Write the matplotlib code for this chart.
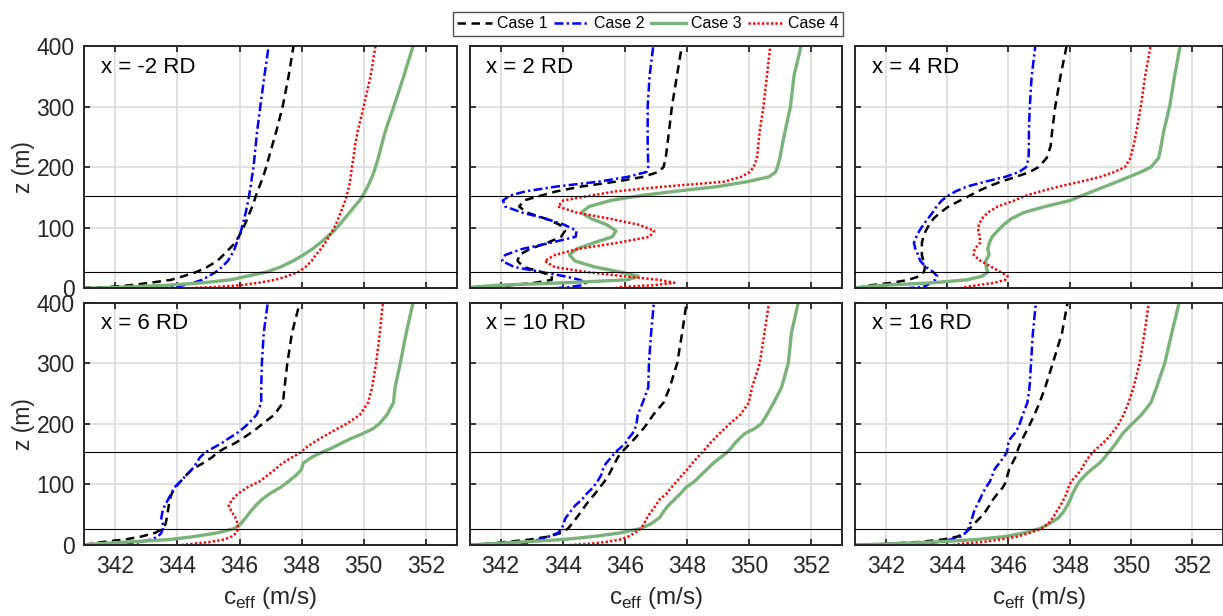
import matplotlib
matplotlib.use('Agg')
import matplotlib.pyplot as plt
from matplotlib.lines import Line2D

plt.rcParams['font.family'] = ['Liberation Sans', 'DejaVu Sans']
plt.rcParams['mathtext.fontset'] = 'custom'
plt.rcParams['mathtext.rm'] = 'Liberation Sans'

# heights (m)
z = [0, 2, 5, 9, 14, 20, 27, 35, 45, 55, 65, 75, 85, 95, 105, 115, 125, 135, 145, 153,
     160, 168, 176, 184, 192, 200, 215, 235, 260, 300, 350, 400]

panel_titles = ['x = -2 RD', 'x = 2 RD', 'x = 4 RD', 'x = 6 RD', 'x = 10 RD', 'x = 16 RD']
case_names = ['Case 1', 'Case 2', 'Case 3', 'Case 4']
rotor_bottom = 27
rotor_top = 153
xticks = [342, 344, 346, 348, 350, 352]
yticks = [0, 100, 200, 300, 400]

# x = -2 RD
c1_m2 = [340.5, 341.7, 342.47, 343.1, 343.8, 344.19, 344.62, 344.95, 345.28, 345.48,
         345.67, 345.86, 345.97, 346.08, 346.17, 346.25, 346.33, 346.41, 346.48, 346.53,
         346.58, 346.64, 346.7, 346.76, 346.81, 346.86, 346.94, 347.05, 347.19, 347.39,
         347.58, 347.74]
c2_m2 = [343.4, 343.8, 344.2, 344.5, 344.8, 345.0, 345.24, 345.43, 345.62, 345.74,
         345.84, 345.91, 345.98, 346.05, 346.1, 346.15, 346.2, 346.24, 346.28, 346.31,
         346.33, 346.36, 346.38, 346.4, 346.43, 346.45, 346.48, 346.52, 346.57, 346.67,
         346.8, 346.94]
c3_m2 = [341.0, 342.26, 343.66, 344.8, 345.7, 346.24, 346.88, 347.31, 347.72, 348.05,
         348.35, 348.6, 348.82, 349.05, 349.22, 349.38, 349.55, 349.7, 349.87, 349.97,
         350.05, 350.13, 350.2, 350.27, 350.33, 350.38, 350.47, 350.57, 350.7, 350.97,
         351.29, 351.59]
c4_m2 = [344.3, 345.16, 346.02, 346.6, 347.15, 347.53, 347.9, 348.12, 348.32, 348.46,
         348.62, 348.76, 348.88, 349.0, 349.1, 349.18, 349.26, 349.33, 349.41, 349.45,
         349.49, 349.53, 349.56, 349.58, 349.6, 349.62, 349.67, 349.72, 349.81, 350.0,
         350.22, 350.38]

# x = 2 RD
c1_p2 = [340.8, 341.2, 342.3, 343.1, 343.65, 343.65, 343.3, 342.75, 342.55, 342.6,
         342.95, 343.5, 343.95, 344.08, 343.9, 343.45, 342.85, 342.6, 342.75, 343.3,
         343.8, 344.6, 345.7, 346.6, 347.08, 347.25, 347.32, 347.37, 347.43, 347.52,
         347.68, 347.84]
c2_p2 = [343.75, 344.2, 344.6, 344.75, 344.55, 344.05, 343.3, 342.45, 342.05, 342.15,
         342.7, 343.6, 344.42, 344.45, 344.05, 343.45, 342.7, 342.15, 342.08, 342.3,
         342.8, 343.8, 345.15, 346.1, 346.7, 346.76, 346.75, 346.74, 346.74, 346.74,
         346.8, 346.92]
c3_p2 = [340.9, 341.1, 341.9, 344.0, 346.1, 346.43, 345.85, 345.05, 344.4, 344.22,
         344.45, 345.0, 345.6, 345.72, 345.42, 344.92, 344.6, 344.85, 345.55, 346.5,
         347.6, 349.0, 349.95, 350.65, 350.86, 350.92, 351.0, 351.07, 351.17, 351.34,
         351.45, 351.68]
c4_p2 = [345.7, 345.8, 346.9, 347.6, 347.1, 345.95, 344.75, 343.75, 343.42, 343.75,
         344.5, 345.75, 346.8, 346.95, 346.45, 345.5, 344.45, 343.85, 344.02, 344.9,
         345.7, 347.3, 349.2, 349.75, 350.03, 350.15, 350.26, 350.3, 350.35, 350.47,
         350.58, 350.69]

# x = 4 RD
c1_p4 = [341.0, 341.2, 341.5, 342.2, 342.75, 343.1, 343.25, 343.28, 343.23, 343.18,
         343.18, 343.18, 343.23, 343.31, 343.42, 343.56, 343.78, 344.05, 344.43, 344.74,
         345.0, 345.35, 345.75, 346.25, 346.7, 346.98, 347.25, 347.38, 347.43, 347.53,
         347.7, 347.9]
c2_p4 = [342.65, 343.2, 343.35, 343.45, 343.62, 343.68, 343.55, 343.32, 343.13, 343.06,
         342.97, 342.92, 343.0, 343.1, 343.23, 343.38, 343.53, 343.66, 343.83, 344.04,
         344.28, 344.65, 345.25, 345.9, 346.35, 346.58, 346.66, 346.67, 346.67, 346.7,
         346.76, 346.88]
c3_p4 = [341.0, 341.2, 341.9, 343.5, 344.65, 345.15, 345.33, 345.28, 345.26, 345.37,
         345.33, 345.38, 345.47, 345.65, 345.85, 346.1, 346.5, 347.2, 348.02, 348.4,
         348.75, 349.15, 349.55, 349.94, 350.32, 350.65, 350.9, 350.98, 351.07, 351.26,
         351.42, 351.6]
c4_p4 = [344.42, 344.6, 344.96, 345.55, 345.9, 345.98, 345.75, 345.46, 345.1, 344.87,
         344.9, 345.08, 345.07, 345.02, 345.04, 345.14, 345.33, 345.65, 346.2, 346.57,
         347.05, 347.65, 348.35, 349.0, 349.45, 349.8, 349.98, 350.08, 350.18, 350.32,
         350.46, 350.64]

# x = 6 RD
c1_p6 = [341.0, 341.2, 341.6, 342.3, 342.84, 343.28, 343.53, 343.62, 343.66, 343.69,
         343.72, 343.75, 343.82, 343.93, 344.1, 344.28, 344.47, 344.82, 345.12, 345.3,
         345.53, 345.85, 346.1, 346.33, 346.55, 346.74, 347.12, 347.4, 347.45, 347.54,
         347.69, 347.94]
c2_p6 = [342.3, 342.5, 342.8, 343.15, 343.38, 343.48, 343.53, 343.53, 343.48, 343.52,
         343.59, 343.7, 343.8, 343.9, 344.1, 344.28, 344.47, 344.61, 344.73, 344.9,
         345.14, 345.42, 345.65, 345.9, 346.1, 346.28, 346.55, 346.7, 346.7, 346.72,
         346.78, 346.91]
c3_p6 = [341.0, 341.4, 342.4, 343.75, 344.55, 345.28, 345.83, 346.04, 346.2, 346.35,
         346.52, 346.72, 346.98, 347.32, 347.58, 347.82, 348.0, 348.05, 348.33, 348.65,
         348.97, 349.28, 349.6, 349.98, 350.3, 350.5, 350.75, 350.96, 351.01, 351.18,
         351.37, 351.59]
c4_p6 = [344.13, 344.5, 345.05, 345.5, 345.75, 345.9, 345.95, 345.94, 345.87, 345.75,
         345.65, 345.76, 345.96, 346.25, 346.65, 346.9, 347.15, 347.38, 347.7, 347.98,
         348.12, 348.35, 348.6, 348.88, 349.15, 349.45, 349.88, 350.14, 350.27, 350.4,
         350.52, 350.62]

# x = 10 RD
c1_p10 = [341.0, 341.5, 342.15, 342.95, 343.55, 343.95, 344.17, 344.3, 344.45, 344.6,
          344.73, 344.88, 345.05, 345.2, 345.35, 345.48, 345.58, 345.68, 345.78, 345.9,
          346.03, 346.18, 346.33, 346.46, 346.6, 346.72, 346.92, 347.25, 347.45, 347.69,
          347.85, 347.99]
c2_p10 = [342.6, 342.75, 342.95, 343.25, 343.55, 343.85, 343.98, 344.02, 344.1, 344.25,
          344.4, 344.62, 344.78, 344.98, 345.12, 345.24, 345.3, 345.4, 345.57, 345.7,
          345.85, 346.02, 346.12, 346.25, 346.33, 346.38, 346.42, 346.58, 346.76, 346.78,
          346.85, 346.94]
c3_p10 = [341.0, 341.6, 342.7, 344.0, 345.0, 345.85, 346.5, 346.85, 347.12, 347.25,
          347.4, 347.6, 347.8, 347.97, 348.25, 348.45, 348.65, 348.85, 349.1, 349.3,
          349.43, 349.55, 349.7, 349.87, 350.18, 350.4, 350.58, 350.8, 351.05, 351.27,
          351.37, 351.59]
c4_p10 = [344.23, 344.85, 345.4, 345.85, 346.12, 346.33, 346.52, 346.62, 346.72, 346.85,
          347.0, 347.12, 347.35, 347.5, 347.68, 347.84, 348.02, 348.18, 348.35, 348.5,
          348.62, 348.75, 348.9, 349.05, 349.22, 349.38, 349.72, 350.0, 350.1, 350.35,
          350.5, 350.65]

# x = 16 RD
c1_p16 = [341.0, 342.0, 343.1, 343.85, 344.35, 344.6, 344.74, 344.88, 345.08, 345.25,
          345.38, 345.5, 345.65, 345.82, 345.93, 345.97, 346.03, 346.13, 346.23, 346.28,
          346.33, 346.4, 346.47, 346.55, 346.63, 346.71, 346.85, 347.02, 347.2, 347.45,
          347.75, 347.93]
c2_p16 = [342.86, 343.2, 343.7, 344.1, 344.45, 344.6, 344.7, 344.75, 344.82, 344.88,
          344.97, 345.07, 345.16, 345.27, 345.4, 345.48, 345.55, 345.7, 345.85, 345.95,
          345.98, 346.0, 346.07, 346.2, 346.3, 346.37, 346.47, 346.62, 346.69, 346.74,
          346.8, 346.9]
c3_p16 = [341.0, 342.2, 343.6, 344.95, 345.9, 346.5, 347.02, 347.33, 347.64, 347.8,
          347.92, 348.02, 348.1, 348.2, 348.32, 348.5, 348.72, 348.97, 349.15, 349.27,
          349.39, 349.51, 349.62, 349.73, 349.88, 350.04, 350.34, 350.65, 350.83, 351.1,
          351.33, 351.57]
c4_p16 = [344.2, 344.45, 345.15, 345.75, 346.3, 346.7, 347.08, 347.3, 347.45, 347.57,
          347.7, 347.8, 347.9, 347.96, 348.05, 348.23, 348.38, 348.49, 348.62, 348.75,
          348.9, 349.08, 349.23, 349.37, 349.49, 349.6, 349.76, 349.92, 350.08, 350.28,
          350.44, 350.58]

panels = [
    [c1_m2, c2_m2, c3_m2, c4_m2],
    [c1_p2, c2_p2, c3_p2, c4_p2],
    [c1_p4, c2_p4, c3_p4, c4_p4],
    [c1_p6, c2_p6, c3_p6, c4_p6],
    [c1_p10, c2_p10, c3_p10, c4_p10],
    [c1_p16, c2_p16, c3_p16, c4_p16],
]

styles = [
    dict(color='black', lw=1.8, dashes=(3.4, 2.2)),
    dict(color='#0000ff', lw=1.8, dashes=(3.6, 1.3, 0.9, 1.3)),
    dict(color='#7ab37a', lw=2.4, linestyle='-'),
    dict(color='#ff0000', lw=1.8, dashes=(0.9, 0.9)),
]

W, H = 1223, 616
fig = plt.figure(figsize=(W / 100, H / 100), dpi=100)

col_left = [84.3, 469.5, 855.0]
col_width = [372.5, 372.5, 368.0]
row_top = [46.0, 302.7]
row_h = 242.3

spine_c = '#262626'
axes = []
for i in range(6):
    r, c = divmod(i, 3)
    ax = fig.add_axes([col_left[c] / W, 1 - (row_top[r] + row_h) / H,
                       col_width[c] / W, row_h / H])
    axes.append(ax)
    ax.set_axisbelow(True)
    ax.grid(True, color='#dcdcdc', lw=1.2)
    for k, cvals in enumerate(panels[i]):
        ax.plot(cvals, z, **styles[k])
    ax.axhline(rotor_bottom, color='black', lw=0.8, zorder=3)
    ax.axhline(rotor_top, color='black', lw=0.8, zorder=3)
    ax.set_xlim(341, 353)
    ax.set_ylim(0, 400)
    ax.set_xticks(xticks)
    ax.set_yticks(yticks)
    ax.tick_params(direction='in', top=True, right=True, length=4, width=1.3,
                   color=spine_c, labelsize=16.5, labelcolor=spine_c, pad=7)
    for s in ax.spines.values():
        s.set_color(spine_c)
        s.set_linewidth(1.4)
    if r == 0:
        ax.tick_params(labelbottom=False)
    else:
        ax.set_xlabel(r'c$_{\mathrm{eff}}$ (m/s)', fontsize=17.5, color=spine_c, labelpad=5)
    if c == 0:
        ax.set_ylabel('z (m)', fontsize=16.5, color=spine_c, labelpad=1)
    else:
        ax.tick_params(labelleft=False)
    ax.text(0.045, 0.913, panel_titles[i], transform=ax.transAxes, fontsize=16,
            va='center', ha='left', color='black')

handles = [Line2D([0], [0], **styles[k]) for k in range(4)]
leg = fig.legend(handles, case_names, loc='center', ncol=4,
                 bbox_to_anchor=(648 / W, 1 - 24 / H), fontsize=11.5,
                 frameon=True, fancybox=False, edgecolor='#262626',
                 handlelength=2.2, handletextpad=0.3, columnspacing=0.4,
                 borderpad=0.3, borderaxespad=0)
leg.get_frame().set_linewidth(1.0)

fig.savefig('out.png', dpi=100)
